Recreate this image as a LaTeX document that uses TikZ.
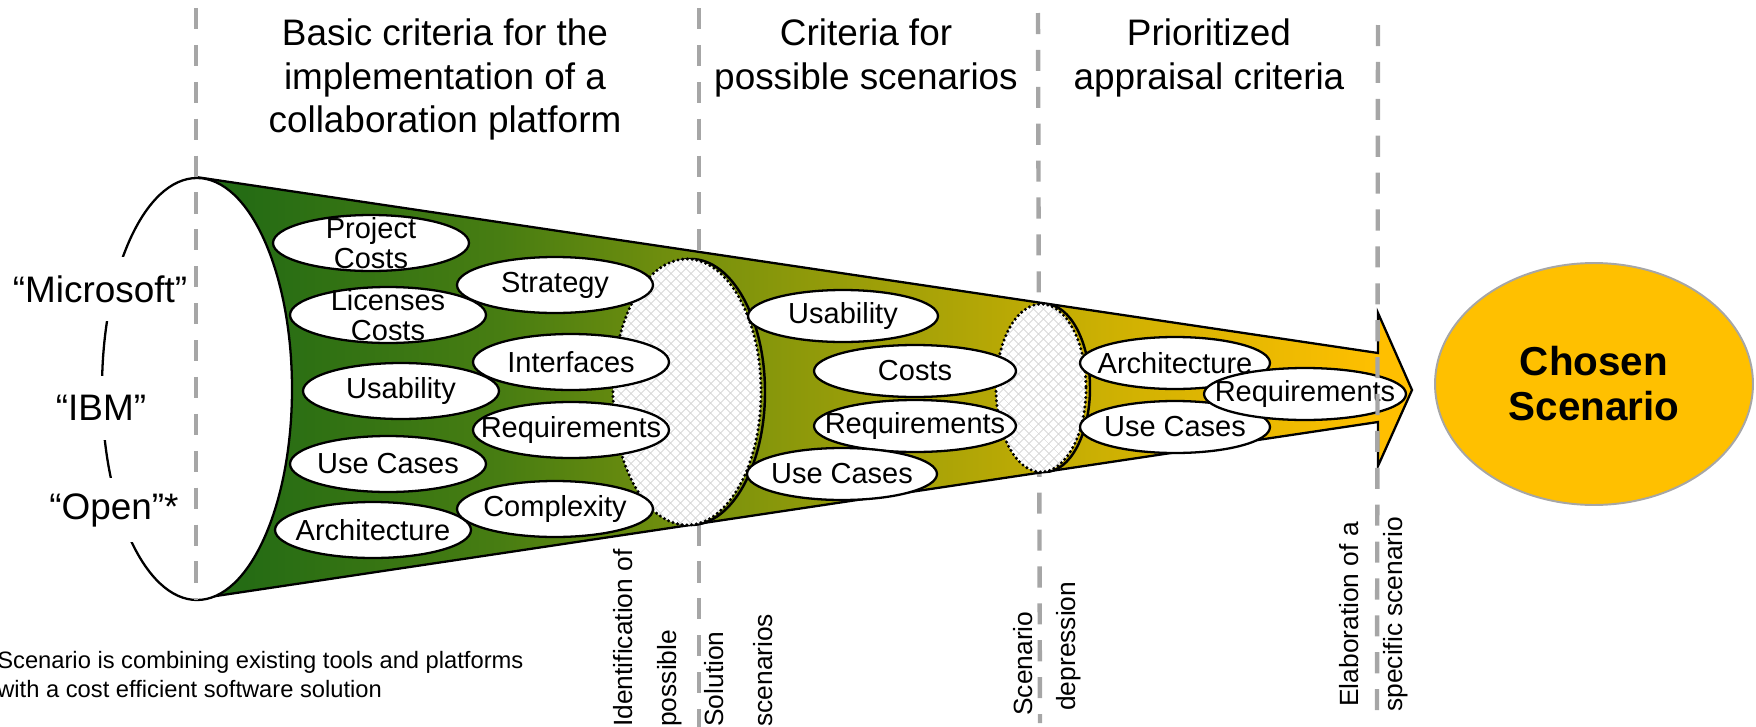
\documentclass[tikz,border=0pt]{standalone}
\usepackage{fontspec}
\setmainfont{Liberation Sans}
\usetikzlibrary{shapes.geometric,patterns.meta}
\definecolor{gold}{RGB}{255,192,0}
\definecolor{dashgray}{RGB}{166,166,166}
\definecolor{hatchgray}{RGB}{212,212,212}
\pgfdeclarehorizontalshading{conegrad}{100bp}{rgb(0bp)=(0.12,0.41,0.08); rgb(25bp)=(0.12,0.41,0.08); rgb(37.5bp)=(0.28,0.49,0.07); rgb(45.7bp)=(0.47,0.57,0.05); rgb(54bp)=(0.64,0.63,0.03); rgb(62.3bp)=(0.80,0.69,0.01); rgb(73.6bp)=(1,0.75,0); rgb(100bp)=(1,0.75,0)}
\tikzset{
  gdash/.style={draw=dashgray, line width=2.5pt, dash pattern=on 12pt off 9pt},
  crit/.style={ellipse, draw=black, line width=1.3pt, fill=white, inner sep=0pt, outer sep=0pt, minimum width=3.92cm, minimum height=1.12cm},
  critm/.style={crit, minimum height=1.04cm},
  crittext/.style={font=\fontsize{16.5}{17}\selectfont, align=center, inner sep=0pt},
  sidelbl/.style={font=\fontsize{21}{25}\selectfont, fill=white, inner sep=1pt, minimum height=1.3cm},
  headtxt/.style={font=\fontsize{21}{25}\selectfont, align=center, inner sep=0pt, anchor=north},
  verttxt/.style={font=\fontsize{15}{18}\selectfont, rotate=90, anchor=base west, inner sep=0pt},
  foottxt/.style={font=\fontsize{13.5}{16}\selectfont, anchor=base west, inner sep=0pt},
  hatchrim/.style={line width=1.9pt, dash pattern=on 0pt off 2.7pt, line cap=round},
  hatchA/.style={pattern={Lines[angle=45,distance=4pt,line width=0.5pt]}, pattern color=hatchgray},
  hatchB/.style={pattern={Lines[angle=-45,distance=4pt,line width=0.5pt]}, pattern color=hatchgray},
}
\begin{document}
\begin{tikzpicture}[x=0.02cm,y=-0.02cm]
\useasboundingbox (0,0) rectangle (1756,727);
% dashed phase separators
\coordinate (d1t) at (196,8);   \coordinate (d1b) at (196,600);
\coordinate (d2t) at (699,8);   \coordinate (d2b) at (699,727);
\coordinate (d3t) at (1038,13); \coordinate (d3b) at (1040,723);
\coordinate (d4t) at (1378,25); \coordinate (d4b) at (1377,718);
\draw[gdash] (d2t) -- (d2b);
\draw[gdash] (d3t) -- (d3b);
% funnel with arrow head
\shadedraw[shading=conegrad, draw=black, line width=1.3pt]
  (196,177) -- (1378,353) -- (1378,313) -- (1412,390) -- (1378,466) -- (1378,422) -- (196,599) -- cycle;
% opening of the funnel
\draw[fill=white, line width=1.3pt] (197,389) ellipse [x radius=95, y radius=211];
\node[sidelbl] (ms) at (100,289) {“Microsoft”};
\node[sidelbl] (ibm) at (101,408) {“IBM”};
\node[sidelbl] (open) at (114,510) {“Open”*};
% hatched filters
\draw[line width=1.4pt] (691,392) ellipse [x radius=74, y radius=133];
\fill[white] (687,392) ellipse [x radius=74, y radius=133];
\fill[hatchA] (687,392) ellipse [x radius=74, y radius=133];
\fill[hatchB] (687,392) ellipse [x radius=74, y radius=133];
\draw[hatchrim] (687,392) ellipse [x radius=74, y radius=133];
\draw[line width=1.4pt] (1045,388) ellipse [x radius=45, y radius=84];
\fill[white] (1041,388) ellipse [x radius=45, y radius=84];
\fill[hatchA] (1041,388) ellipse [x radius=45, y radius=84];
\fill[hatchB] (1041,388) ellipse [x radius=45, y radius=84];
\draw[hatchrim] (1041,388) ellipse [x radius=45, y radius=84];
% basic criteria
\node[crit, label={[crittext]center:{Project\\Costs}}] (pc) at (371,243) {};
\node[crit, label={[crittext]center:{Licenses\\Costs}}] (lc) at (388,315) {};
\node[crit, label={[crittext]center:Usability}] (us1) at (401,391) {};
\node[crit, label={[crittext]center:Use Cases}] (uc1) at (388,464) {};
\node[crit, label={[crittext]center:Architecture}] (ar1) at (373,530) {};
\node[crit, label={[crittext]center:Strategy}] (st) at (555,285) {};
\node[crit, label={[crittext]center:Interfaces}] (if) at (571,362) {};
\node[crit, label={[crittext]center:Requirements}] (rq1) at (571,430) {};
\node[crit, label={[crittext]center:Complexity}] (cx) at (555,509) {};
% criteria for possible scenarios
\node[critm, minimum width=3.8cm, label={[crittext]center:Usability}] (us2) at (843,316) {};
\node[critm, minimum width=4.04cm, label={[crittext]center:Costs}] (co) at (915,371) {};
\node[critm, minimum width=4.04cm, label={[crittext]center:Requirements}] (rq2) at (915,426) {};
\node[critm, minimum width=3.8cm, label={[crittext]center:Use Cases}] (uc2) at (842,474) {};
% prioritized appraisal criteria
\node[critm, minimum width=3.8cm, label={[crittext]center:Architecture}] (ar2) at (1175,363) {};
\node[critm, minimum width=3.8cm, label={[crittext]center:Use Cases}] (uc3) at (1175,427) {};
\node[critm, minimum width=4.04cm, label={[crittext]center:Requirements}] (rq3) at (1305,394) {};
% front separators
\draw[gdash] (d1t) -- (d1b);
\draw[gdash] (d4t) -- (d4b);
% result
\node[ellipse, fill=gold, draw=dashgray, line width=1.1pt, minimum width=6.36cm, minimum height=4.84cm, inner sep=0pt, align=center, font=\fontsize{23}{25.6}\selectfont\bfseries] (cs) at (1594,384) {Chosen\\Scenario};
% headings
\node[headtxt] (h1) at (445,18) {Basic criteria for the\\implementation of a\\collaboration platform};
\node[headtxt] (h2) at (866,18) {Criteria for\\possible scenarios};
\node[headtxt] (h3) at (1209,18) {Prioritized\\appraisal criteria};
% vertical phase labels
\node[verttxt] (v1) at (632,727) {Identification of};
\node[verttxt] (v2) at (676,727) {possible};
\node[verttxt] (v3) at (723,727) {Solution};
\node[verttxt] (v4) at (772,727) {scenarios};
\node[verttxt] (v5) at (1032,716) {Scenario};
\node[verttxt] (v6) at (1075,711) {depression};
\node[verttxt] (v7) at (1358,707) {Elaboration of a};
\node[verttxt] (v8) at (1402,712) {specific scenario};
% footnote
\node[foottxt] (f1) at (-3,668) {Scenario is combining existing tools and platforms};
\node[foottxt] (f2) at (-3,697) {with a cost efficient software solution};
\end{tikzpicture}
\end{document}
